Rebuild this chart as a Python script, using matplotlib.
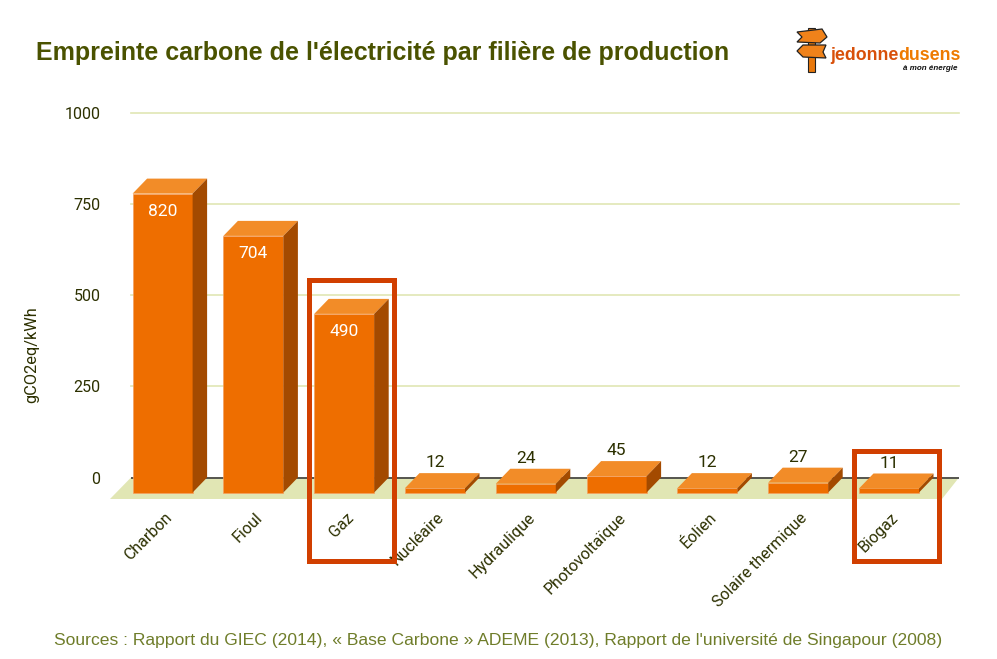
import matplotlib
matplotlib.use('Agg')
import matplotlib.pyplot as plt
from matplotlib.patches import Polygon, Rectangle
from matplotlib.transforms import ScaledTranslation

categories = ['Charbon', 'Fioul', 'Gaz', 'Nucléaire', 'Hydraulique', 'Photovoltaïque',
              'Éolien', 'Solaire thermique', 'Biogaz']
values = [820, 704, 490, 12, 24, 45, 12, 27, 11]
y_ticks = [0, 250, 500, 750, 1000]

W, H = 997, 659
FRONT = '#ee6e00'
TOP = '#f28c28'
SIDE = '#a34a00'
GRID = '#e0e6b4'
DARK = '#2c3000'

fig = plt.figure(figsize=(W / 100, H / 100), dpi=100)

# axes placed in pixels: 1000 at y=113, 0 at y=477.5, bottom edge is the floor
left, right, top, bottom = 131, 959, 113, 499
ax = fig.add_axes([left / W, 1 - bottom / H, (right - left) / W, (bottom - top) / H])
px_x = 90.8
px_y = 0.3645
ax.set_xlim((left - 162.6) / px_x, (right - 162.6) / px_x)
ax.set_ylim(-(bottom - 477.5) / px_y, 1000)
for s in ax.spines.values():
    s.set_visible(False)

depth_x = 14.5 / px_x
depth_y = 15 / px_y
bar_w = 60 / px_x

# gridlines, floor, zero line
for t in y_ticks[1:]:
    ax.axhline(t, color=GRID, lw=1.2, zorder=1, clip_on=False)
x0, x1 = ax.get_xlim()
y0 = ax.get_ylim()[0]
ax.add_patch(Polygon([(x0 - 21 / px_x, y0), (x0, 0), (x1, 0), (x1 - 17 / px_x, y0)],
                     closed=True, fc='#e1e6b4', ec='none', zorder=2, clip_on=False))
ax.axhline(0, color='#55554f', lw=1.4, zorder=3)

# 3D bars
for i, v in enumerate(values):
    xl = i - bar_w / 2
    xr = i + bar_w / 2
    yb = -depth_y
    yt = v - depth_y
    ax.bar(i, v, bottom=yb, width=bar_w, color=FRONT, edgecolor='#f4a060', linewidth=0.5, zorder=5)
    ax.add_patch(Polygon([(xl, yt), (xl + depth_x, v), (xr + depth_x, v), (xr, yt)], closed=True,
                         fc=TOP, ec='none', zorder=5.5))
    ax.add_patch(Polygon([(xr, yb), (xr + depth_x, 0), (xr + depth_x, v), (xr, yt)], closed=True,
                         fc=SIDE, ec='none', zorder=5.5))
    if v > 100:
        ax.annotate(str(v), (i, yt), xytext=(0, -13), textcoords='offset points', ha='center', va='center',
                    color='white', fontsize=12.5, family='Roboto', zorder=6)
    else:
        ax.annotate(str(v), (i, v), xytext=(0, 7.5), textcoords='offset points', ha='center', va='center',
                    color=DARK, fontsize=12.5, family='Roboto', zorder=6)

# axis labels
ax.set_yticks(y_ticks)
ax.set_yticklabels([str(t) for t in y_ticks], family='Roboto', fontsize=11.5, color=DARK)
ax.tick_params(axis='y', length=0, pad=22)
ax.set_xticks(range(len(categories)))
ax.set_xticklabels(categories, family='Roboto', fontsize=11.5, color=DARK, rotation=45, ha='right',
                   rotation_mode='anchor')
ax.tick_params(axis='x', length=0, pad=0)
shift = ScaledTranslation(1.5 / 100, -11 / 100, fig.dpi_scale_trans)
for lab in ax.get_xticklabels():
    lab.set_transform(lab.get_transform() + shift)

# overlay in pixel coords for title, source, frames and logo
ov = fig.add_axes([0, 0, 1, 1], zorder=10)
ov.set_xlim(0, W)
ov.set_ylim(H, 0)
ov.axis('off')
ov.patch.set_alpha(0)

ov.text(36, 60, "Empreinte carbone de l'électricité par filière de production", family='Liberation Sans',
        fontweight='bold', fontsize=18.03, color='#4a5200', va='baseline')
ov.text(54, 645, "Sources : Rapport du GIEC (2014), « Base Carbone » ADEME (2013), Rapport de l'université de Singapour (2008)",
        family='Liberation Sans', fontsize=12.6, color='#6f7d2a', va='baseline')
ov.text(32, 355, 'gCO2eq/kWh', family='Roboto', fontsize=11.8, color=DARK, rotation=90, ha='center', va='center')

for x, y, w, h in [(309.2, 280.4, 84.3, 280.1), (854.2, 450.8, 84.3, 109.7)]:
    ov.add_patch(Rectangle((x, y), w, h, fc='none', ec='#d13f00', lw=3.6, joinstyle='miter'))

# logo
ov.add_patch(Rectangle((808, 28), 7, 44, fc='#e8780c', ec='#222', lw=0.8))
ov.add_patch(Polygon([(797, 32), (822, 29), (827, 37), (820, 43), (797, 42), (802, 37)], closed=True,
                     fc='#f0821a', ec='#222', lw=0.9))
ov.add_patch(Polygon([(797, 51), (803, 45), (826, 45), (823, 52), (826, 58), (803, 57)], closed=True,
                     fc='#f0821a', ec='#222', lw=0.9))
ov.text(830, 60, 'jedonne', family='Liberation Sans', fontweight='bold', fontsize=12.8,
        color='#d8500a', va='baseline')
ov.text(898, 60, 'dusens', family='Liberation Sans', fontweight='bold', fontsize=12.8,
        color='#ee7a00', va='baseline')
ov.text(903, 70, 'à mon énergie', family='Liberation Sans', fontweight='bold',
        style='italic', fontsize=5.8, color='#111', va='baseline')

fig.savefig('out.png', dpi=100)
